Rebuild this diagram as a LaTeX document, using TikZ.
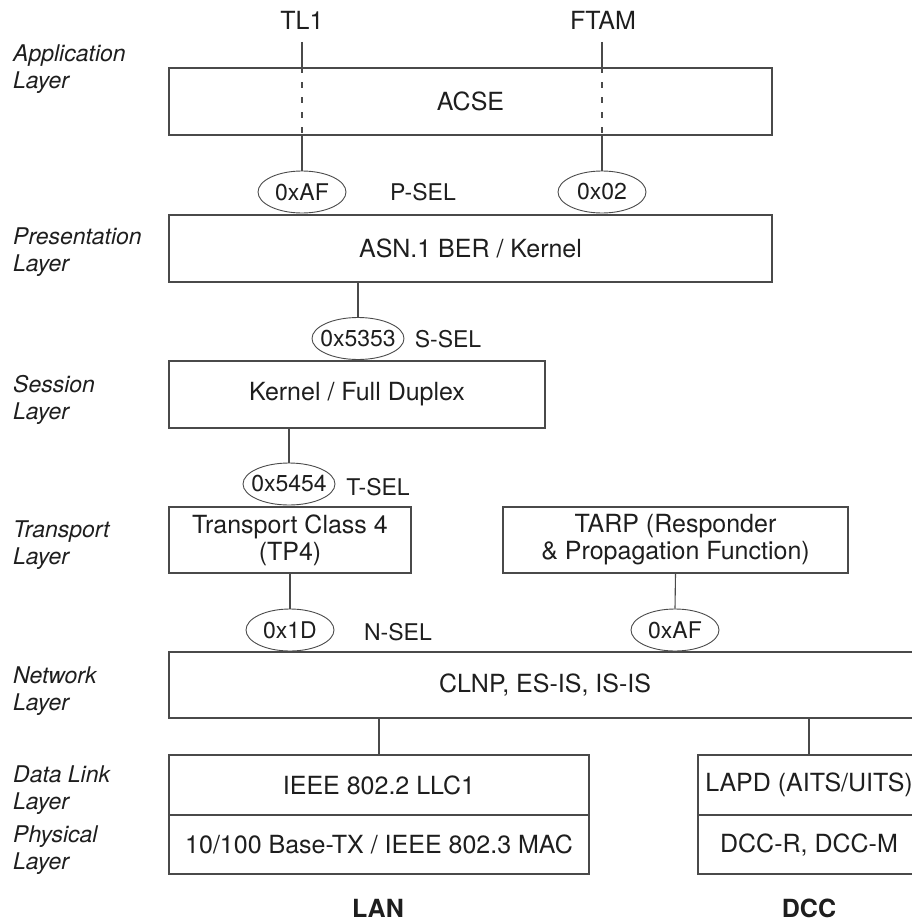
\documentclass[tikz,border=0pt]{standalone}
\usepackage{fontspec}
\setmainfont{TeX Gyre Heros}
\usetikzlibrary{shapes.geometric}
\definecolor{ink}{HTML}{1E1E1E}
\definecolor{rule}{HTML}{4A4A4A}
% zero-width label so the ellipse keeps its own size
\newcommand\selval[1]{\makebox[0pt]{#1}}
\begin{document}
\begin{tikzpicture}[x=1pt,y=-1pt,
  every node/.style={text=ink},
  layerbox/.style={draw=rule, line width=1.1pt, rectangle, inner sep=0pt,
    font=\fontsize{25}{27}\selectfont, align=center},
  sel/.style={draw=rule, line width=0.9pt, ellipse, inner sep=0pt,
    minimum width=88pt, minimum height=42pt, font=\fontsize{23}{27}\selectfont},
  widesel/.style={sel, minimum width=92pt},
  layername/.style={anchor=north west, inner sep=0pt, align=left,
    font=\fontsize{23}{27}\selectfont\itshape},
  tag/.style={inner sep=0pt, font=\fontsize{23}{27}\selectfont},
  proto/.style={inner sep=0pt, font=\fontsize{25}{27}\selectfont},
  stackname/.style={inner sep=0pt, font=\fontsize{25}{27}\selectfont\bfseries},
  link/.style={draw=rule, line width=1.1pt},
  ]
\useasboundingbox (0,0) rectangle (912,923);
\clip (0,0) rectangle (912,923);

% layer names
\node[layername] (lapp)  at (13,45)  {Application\\Layer};
\node[layername] (lpres) at (13,228) {Presentation\\Layer};
\node[layername] (lsess) at (13,375) {Session\\Layer};
\node[layername] (ltran) at (13,521) {Transport\\Layer};
\node[layername] (lnet)  at (13,667) {Network\\Layer};
\node[layername] (ldl)   at (13,766) {Data Link\\Layer};
\node[layername] (lphy)  at (13,826) {Physical\\Layer};

% applications
\node[proto] (tl1)  at (302,20) {TL1};
\node[proto] (ftam) at (603,20) {FTAM};
\coordinate (tl1end)  at (302,42);
\coordinate (ftamend) at (602,42);

% protocol boxes
\node[layerbox, minimum width=603pt, minimum height=67pt] (acse) at (470.5,101.5) {ACSE};
\node[layerbox, minimum width=603pt, minimum height=67pt] (pres) at (470.5,248.5) {ASN.1 BER / Kernel};
\node[layerbox, minimum width=376pt, minimum height=67pt] (sess) at (357,394.5) {Kernel / Full Duplex};
\node[layerbox, minimum width=242pt, minimum height=66pt] (tp4) at (290,540) {Transport Class 4\\(TP4)};
\node[layerbox, minimum width=345pt, minimum height=66pt] (tarp) at (675.5,540) {TARP (Responder\\\& Propagation Function)};
\node[layerbox, minimum width=752pt, minimum height=66pt] (net) at (545,685) {CLNP, ES-IS, IS-IS};
\node[layerbox, minimum width=420pt, minimum height=60pt] (llc) at (379,785) {IEEE 802.2 LLC1};
\node[layerbox, minimum width=420pt, minimum height=59pt] (mac) at (379,844.5) {10/100 Base-TX / IEEE 802.3 MAC};
\node[layerbox, minimum width=222pt, minimum height=60pt] (lapd) at (809,785) {LAPD (AITS/UITS)};
\node[layerbox, minimum width=222pt, minimum height=59pt] (dccr) at (809,844.5) {DCC-R, DCC-M};

% selectors
\node[sel] (psel1) at (302,192) {\selval{0xAF}};
\node[sel] (psel2) at (602,192) {\selval{0x02}};
\node[tag] (psel)  at (423,192) {P-SEL};
\node[widesel] (ssel1) at (358,338.5) {\selval{0x5353}};
\node[tag] (ssel)  at (448,339) {S-SEL};
\node[widesel] (tsel1) at (289,484) {\selval{0x5454}};
\node[tag] (tsel)  at (378,487) {T-SEL};
\node[sel] (nsel1) at (290,630) {\selval{0x1D}};
\node[sel] (nsel2) at (675,630) {\selval{0xAF}};
\node[tag] (nsel)  at (398,632) {N-SEL};

% stack names
\node[stackname] (lan) at (378,908) {LAN};
\node[stackname] (dcc) at (809,908) {DCC};

% connectors
\draw[link] (tl1end) -- (tl1end |- acse.north);
\draw[link, dash pattern=on 6pt off 9pt] (tl1end |- acse.north) -- (tl1end |- acse.south);
\draw[link] (tl1end |- acse.south) -- (psel1.north);
\draw[link] (ftamend) -- (ftamend |- acse.north);
\draw[link, dash pattern=on 6pt off 9pt] (ftamend |- acse.north) -- (ftamend |- acse.south);
\draw[link] (ftamend |- acse.south) -- (psel2.north);
\draw[link] (ssel1.north |- pres.south) -- (ssel1.north);
\draw[link] (tsel1.north |- sess.south) -- (tsel1.north);
\draw[link] (tp4.south) -- (nsel1.north);
\draw[link] (tarp.south) -- (nsel2.north);
\draw[link] (llc.north |- net.south) -- (llc.north);
\draw[link] (lapd.north |- net.south) -- (lapd.north);
\end{tikzpicture}
\end{document}
